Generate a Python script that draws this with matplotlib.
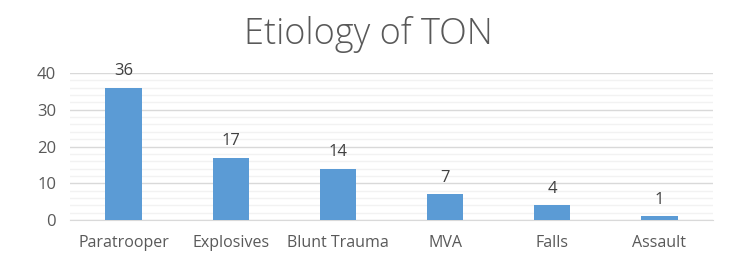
import numpy as np
import matplotlib.pyplot as plt
from matplotlib.ticker import MultipleLocator

categories = ["Paratrooper", "Explosives", "Blunt Trauma", "MVA", "Falls", "Assault"]
counts = [36, 17, 14, 7, 4, 1]
y_ticks = [0, 10, 20, 30, 40]

text_color = "#595959"
bar_color = "#5b9bd5"

plt.rcParams["font.family"] = ["Open Sans", "DejaVu Sans"]

fig = plt.figure(figsize=(7.36, 2.56), dpi=100)
ax = fig.add_axes([0.0951, 0.1406, 0.8737, 0.5742])

x = np.arange(len(categories))
bars = ax.bar(x, counts, width=0.34, color=bar_color, zorder=3)

for xi, v in zip(x, counts):
    ax.annotate(str(v), (xi, v), xytext=(0, 6), textcoords="offset points",
                ha="center", va="bottom", fontsize=12, color="#404040")

ax.set_xlim(-0.5, len(categories) - 0.5)
ax.set_ylim(0, 40)
ax.set_yticks(y_ticks)
ax.yaxis.set_minor_locator(MultipleLocator(2))
ax.set_xticks(x)
ax.set_xticklabels(categories)

ax.grid(axis="y", which="major", color="#d9d9d9", linewidth=1, zorder=0)
ax.grid(axis="y", which="minor", color="#f2f2f2", linewidth=1, zorder=0)

for side in ["top", "right", "left"]:
    ax.spines[side].set_visible(False)
ax.spines["bottom"].set_color("#d9d9d9")

ax.tick_params(axis="both", which="both", length=0, colors=text_color)
ax.tick_params(axis="x", pad=11, labelsize=11.5)
ax.tick_params(axis="y", pad=10, labelsize=12)

fig.text(0.5, 0.865, "Etiology of TON", ha="center", va="center",
         fontsize=26, color=text_color, fontweight="light")

fig.savefig("out.png", dpi=100)
